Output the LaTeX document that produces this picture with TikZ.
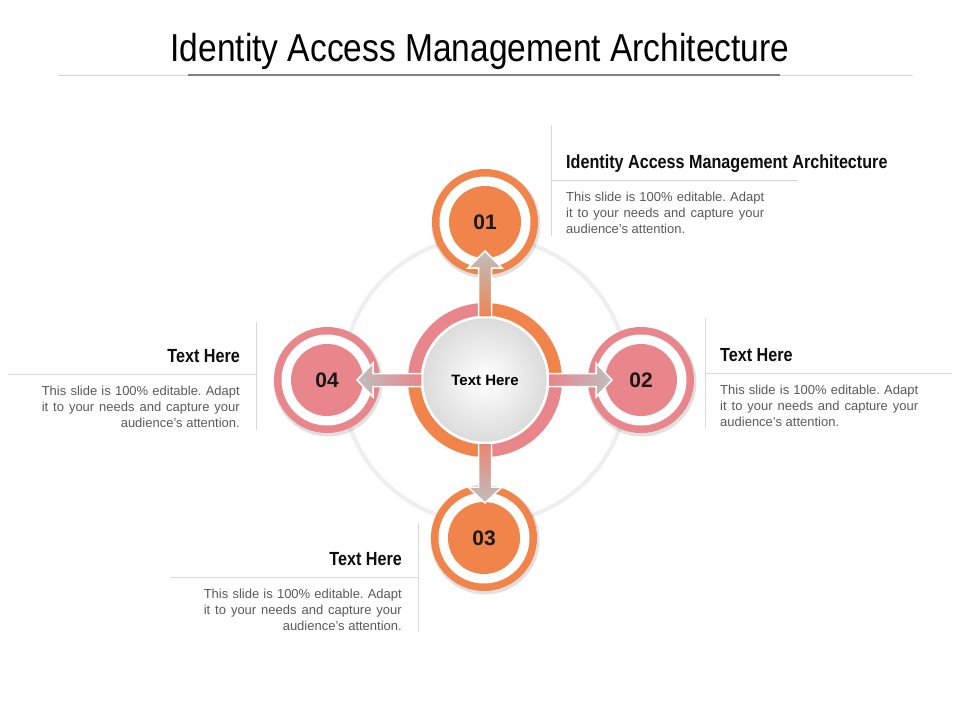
\documentclass[tikz,border=0pt]{standalone}
\usepackage{fontspec}
\setmainfont{Liberation Sans}
\newfontfamily\narrowfont{Liberation Sans}[FakeStretch=0.86]
\newfontfamily\headfont{Liberation Sans}[FakeStretch=0.85]
\usetikzlibrary{calc}
\definecolor{orng}{HTML}{F0844A}
\definecolor{pnk}{HTML}{E8868B}
\definecolor{txtgray}{HTML}{5A5A5A}
\definecolor{linegray}{HTML}{D9D9D9}
\definecolor{arrgray}{HTML}{BEBEBE}
\definecolor{faint}{HTML}{EEEEEE}
\frenchspacing
\newcommand{\slidetext}{\makebox[198pt][s]{This slide is 100\% editable. Adapt}\\\makebox[198pt][s]{it to your needs and capture your}\\audience's attention.}
\newcommand{\numcircle}[4]{% name, position, color, text
  \fill[black, opacity=0.12] ($#2+(1,2)$) circle[radius=54.5];
  \fill[#3] #2 circle[radius=53];
  \fill[white] #2 circle[radius=45.5];
  \node[numnode, fill=#3] (#1) at #2 {#4};
}
\begin{document}
\begin{tikzpicture}[x=1pt,y=-1pt,
  numnode/.style={circle, minimum size=72pt, inner sep=0, font=\bfseries\fontsize{21}{21}\selectfont, text=black!90},
  head/.style={font=\headfont\bfseries\fontsize{19}{19}\selectfont, inner sep=0, text=black!95},
  body/.style={font=\fontsize{13}{16}\selectfont, text=txtgray, inner sep=0},
  rule/.style={linegray, line width=1},
  ringseg/.style={line width=12.5},
  fatarrow/.style={draw=white, line width=1.5}]
\useasboundingbox (0,0) rectangle (960,720);
\fill[white] (0,0) rectangle (960,720);

% title
\node[font=\narrowfont\fontsize{39}{44}\selectfont, anchor=base, inner sep=0] (title) at (480,61) {Identity Access Management Architecture};
\draw[rule] (58,75.5) -- (913,75.5);
\draw[black!50, line width=2] (188,74.5) -- (780,74.5);

% faint big circle
\draw[faint, line width=4] (485,380) circle[radius=143];

% ring around centre
\draw[ringseg, orng] (485,380) ++(270:70.75) arc[start angle=270, end angle=360, radius=70.75];
\draw[ringseg, pnk]  (485,380) ++(0:70.75) arc[start angle=0, end angle=90, radius=70.75];
\draw[ringseg, orng] (485,380) ++(90:70.75) arc[start angle=90, end angle=180, radius=70.75];
\draw[ringseg, pnk]  (485,380) ++(180:70.75) arc[start angle=180, end angle=270, radius=70.75];

% centre disc
\node[circle, minimum size=125pt, inner sep=0, draw=white, line width=1.5, inner color=white, outer color=black!14, font=\bfseries\fontsize{15}{15}\selectfont] (c) at (485,380) {Text Here};

% numbered circles
\numcircle{n1}{(485,222)}{orng}{01}
\numcircle{n2}{(641,380)}{pnk}{02}
\numcircle{n3}{(484,538)}{orng}{03}
\numcircle{n4}{(327,380)}{pnk}{04}

% arrows
\begin{scope}[shift={(c.center)}]
\shadedraw[fatarrow, bottom color=orng!90!pnk, middle color=orng!60!arrgray, top color=arrgray]
  (-6.5,-63) -- (-6.5,-112) -- (-17,-112) -- (0,-129) -- (17,-112) -- (6.5,-112) -- (6.5,-63) -- cycle;
\shadedraw[fatarrow, left color=pnk, middle color=pnk!60!arrgray, right color=arrgray]
  (63,-6.5) -- (111,-6.5) -- (111,-17) -- (127,0) -- (111,17) -- (111,6.5) -- (63,6.5) -- cycle;
\shadedraw[fatarrow, top color=pnk!60!orng, middle color=pnk!50!arrgray, bottom color=arrgray]
  (-6.5,63) -- (-6.5,107) -- (-17,107) -- (0,123) -- (17,107) -- (6.5,107) -- (6.5,63) -- cycle;
\shadedraw[fatarrow, right color=pnk, middle color=pnk!60!arrgray, left color=arrgray]
  (-63,-6.5) -- (-112,-6.5) -- (-112,-17) -- (-128,0) -- (-112,17) -- (-112,6.5) -- (-63,6.5) -- cycle;
\end{scope}

% text block 01
\draw[rule] (551,125) -- (551,236);
\draw[rule] (551,180) -- (798,180);
\node[head, anchor=base west] (h1) at (566,168) {Identity Access Management Architecture};
\node[body, anchor=north west, align=left] (b1) at (566,191.5) {\slidetext};

% text block 02
\draw[rule] (705,318) -- (705,428);
\draw[rule] (705,373) -- (952,373);
\node[head, anchor=base west] (h2) at (720,361) {Text Here};
\node[body, anchor=north west, align=left] (b2) at (720,384.5) {\slidetext};

% text block 04
\draw[rule] (256,322) -- (256,430);
\draw[rule] (8,374) -- (256,374);
\node[head, anchor=base east] (h4) at (240,362) {Text Here};
\node[body, anchor=north east, align=right] (b4) at (240,385.5) {\slidetext};

% text block 03
\draw[rule] (418,523) -- (418,632);
\draw[rule] (171,577) -- (418,577);
\node[head, anchor=base east] (h3) at (402,565) {Text Here};
\node[body, anchor=north east, align=right] (b3) at (402,588.5) {\slidetext};
\end{tikzpicture}
\end{document}
